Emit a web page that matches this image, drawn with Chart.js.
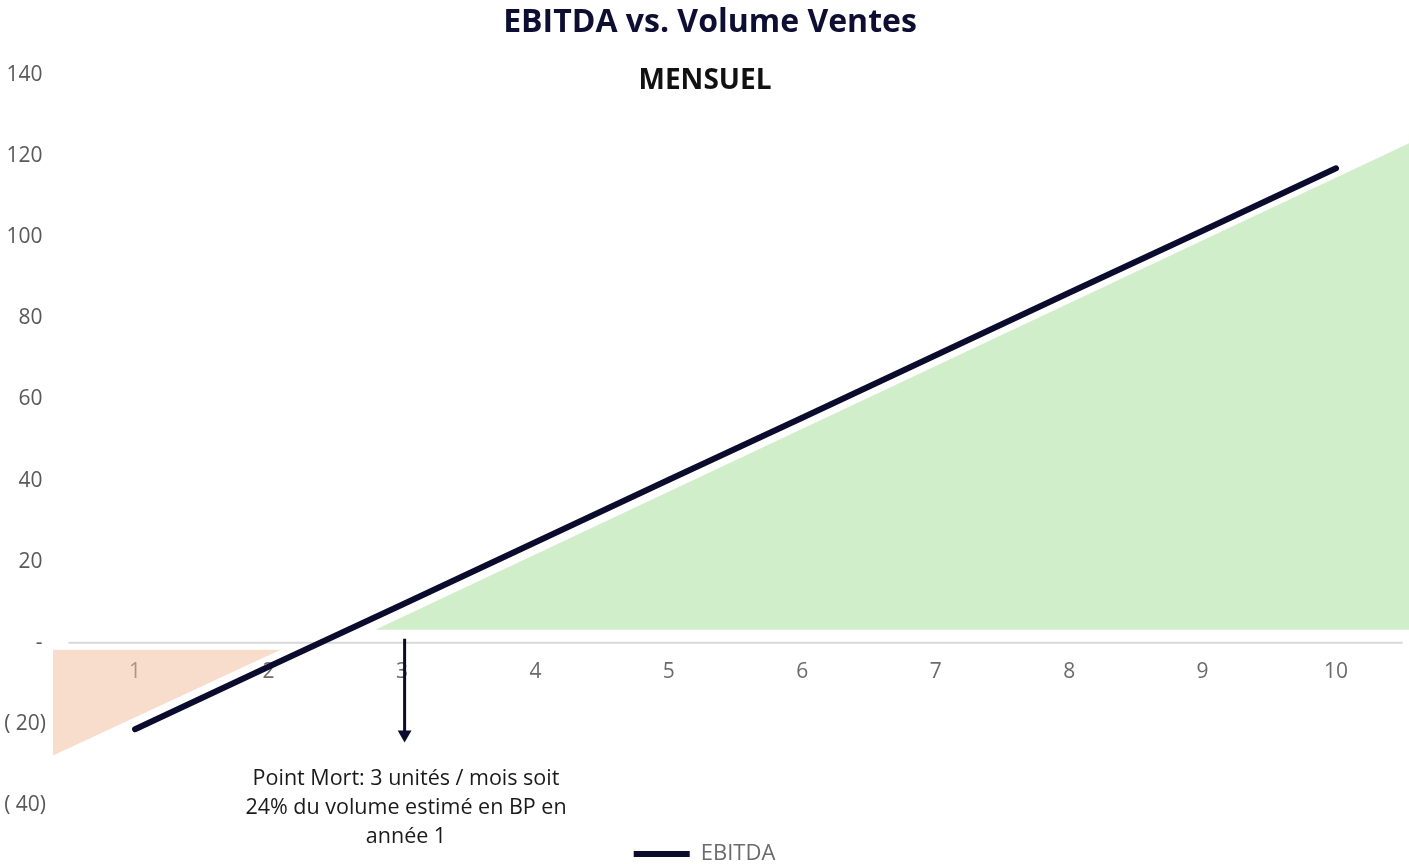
<!DOCTYPE html>
<html lang="fr">
<head>
  <meta charset="UTF-8">
  <title>EBITDA vs. Volume Ventes</title>
  <style>
    body { margin: 0; background: #fff; font-family: "Open Sans", sans-serif; overflow: hidden; }
    #wrap { position: relative; width: 1409px; height: 864px; }
    canvas { display: block; }
    .txt { position: absolute; text-align: center; white-space: nowrap; transform: translateX(-50%); }
    #titre { left: 710px; top: -1px; font-size: 32px; font-weight: 700; color: #0e0e33; line-height: 42px; }
    #sousTitre { left: 705px; top: 60px; font-size: 28px; font-weight: 700; color: #111; line-height: 36px; }
    #note { left: 406px; top: 762px; font-size: 21.5px; color: #1a1a1a; line-height: 29px; }
  </style>
  <script src="https://cdn.jsdelivr.net/npm/chart.js"></script>
</head>
<body>
<div id="wrap">
  <canvas id="graphique" width="1409" height="864"></canvas>
  <div id="titre" class="txt">EBITDA vs. Volume Ventes</div>
  <div id="sousTitre" class="txt">MENSUEL</div>
  <div id="note" class="txt">Point Mort: 3 unités / mois soit<br>24% du volume estimé en BP en<br>année 1</div>
</div>
<script>
  // volume mensuel (unités) et EBITDA correspondant
  const volumes = [1, 2, 3, 4, 5, 6, 7, 8, 9, 10];
  const ebitda = [-21.3, -5.9, 9.4, 24.8, 40.2, 55.5, 70.9, 86.3, 101.6, 117.0];

  // zones colorées (profit / perte)
  const zoneProfitX = [2.80, 10.55];
  const zoneProfitY = [3.2, 123.2];
  const zonePerteX = [0.385, 2.09];
  const zonePerteY = [-27.8, -1.7];
  const basePerte = -1.7;
  const baseProfit = 3.2;

  // point mort
  const pointMortX = 3.02;
  const flecheY = [1, -22.6];

  const yTicks = [-40, -20, 0, 20, 40, 60, 80, 100, 120, 140];

  const navy = '#0b0b2e';
  const pts = (xs, ys) => xs.map((x, i) => ({ x: x, y: ys[i] }));

  const ctx = document.getElementById('graphique').getContext('2d');

  new Chart(ctx, {
    type: 'line',
    data: {
      datasets: [
        {
          label: 'EBITDA',
          data: pts(volumes, ebitda),
          borderColor: navy,
          backgroundColor: navy,
          borderWidth: 6,
          borderCapStyle: 'round',
          pointRadius: 0,
          fill: false
        },
        {
          label: 'fleche',
          data: pts([pointMortX, pointMortX], flecheY),
          borderColor: navy,
          backgroundColor: navy,
          borderWidth: 3,
          pointRadius: [0, 8],
          pointStyle: 'triangle',
          rotation: 180,
          pointBorderWidth: 0,
          fill: false
        },
        {
          label: 'axe',
          data: pts([0.5, 10.5], [0, 0]),
          borderColor: '#d9d9d9',
          borderWidth: 2,
          pointRadius: 0,
          fill: false
        },
        {
          label: 'profit',
          data: pts(zoneProfitX, zoneProfitY),
          borderWidth: 0,
          borderColor: 'rgba(0,0,0,0)',
          backgroundColor: '#d0eeca',
          pointRadius: 0,
          fill: { value: baseProfit }
        },
        {
          label: 'perte',
          data: pts(zonePerteX, zonePerteY),
          borderWidth: 0,
          borderColor: 'rgba(0,0,0,0)',
          backgroundColor: 'rgba(242,186,154,0.5)',
          pointRadius: 0,
          fill: { value: basePerte }
        }
      ]
    },
    options: {
      responsive: false,
      animation: false,
      layout: { autoPadding: false, padding: { top: 75, right: 0, left: 0, bottom: -11 } },
      scales: {
        x: {
          type: 'linear',
          min: 0.385,
          max: 10.547,
          position: { y: 0 },
          grid: { display: false, drawTicks: false },
          border: { display: false },
          afterBuildTicks: (axis) => { axis.ticks = volumes.map(v => ({ value: v })); },
          ticks: {
            padding: 17,
            color: '#6b6b6b',
            font: { family: '"Open Sans"', size: 21 },
            callback: (v) => String(v)
          }
        },
        espace: {
          type: 'linear',
          axis: 'x',
          position: 'bottom',
          display: true,
          grid: { display: false, drawTicks: false },
          border: { display: false },
          ticks: { display: false },
          afterFit: (s) => { s.height = 34; }
        },
        y: {
          min: -40,
          max: 140,
          grid: { display: false, drawTicks: false },
          border: { display: false },
          afterBuildTicks: (axis) => { axis.ticks = yTicks.map(v => ({ value: v })); },
          afterFit: (s) => { s.width = 53; },
          ticks: {
            padding: 7,
            color: '#595959',
            font: { family: '"Open Sans"', size: 21 },
            callback: (v) => v === 0 ? '-\u2009' : (v < 0 ? '( ' + Math.abs(v) + ')' : v + '\u2009')
          }
        }
      },
      plugins: {
        title: { display: false },
        tooltip: { enabled: false },
        legend: {
          position: 'bottom',
          labels: {
            filter: (item) => item.text === 'EBITDA',
            usePointStyle: true,
            pointStyle: 'line',
            pointStyleWidth: 56,
            padding: 4,
            color: '#6b6b6b',
            font: { family: '"Open Sans"', size: 22 }
          }
        }
      }
    }
  });
</script>
</body>
</html>
